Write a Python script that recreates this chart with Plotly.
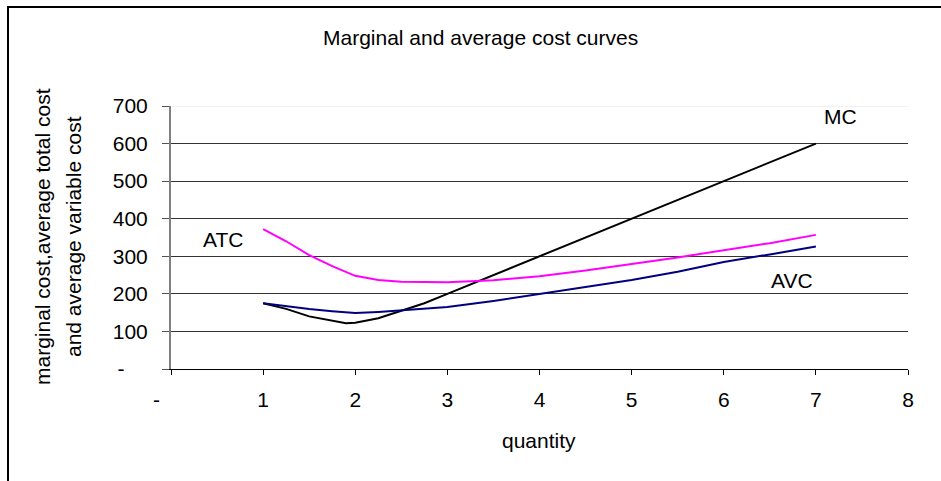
import plotly.graph_objects as go

# ---- data ----
mc_q = [1, 1.25, 1.5, 1.75, 1.9, 2, 2.25, 2.5, 2.75, 3, 3.5, 4, 4.5, 5, 5.5, 6, 6.5, 7]
mc = [175, 160, 140, 128, 122, 123, 135, 155, 175, 200, 250, 300, 350, 400, 450, 500, 550, 600]

avg_q = [1, 1.25, 1.5, 1.75, 2, 2.25, 2.5, 3, 3.5, 4, 4.5, 5, 5.5, 6, 6.5, 7]
atc = [372, 340, 303, 274, 248, 237, 232, 231, 236, 247, 262, 279, 297, 316, 335, 357]
avc = [175, 167, 160, 154, 149, 152, 156, 165, 181, 200, 217, 237, 259, 285, 305, 326]

x_ticks = [0, 1, 2, 3, 4, 5, 6, 7, 8]
x_labels = ["-" + "\u00a0" * 5, "1", "2", "3", "4", "5", "6", "7", "8"]
y_ticks = [0, 100, 200, 300, 400, 500, 600, 700]
y_labels = ["-" + "\u00a0" * 4, "100", "200", "300", "400", "500", "600", "700"]

FONT = "Liberation Sans, Arial, sans-serif"
FS = 21

fig = go.Figure()
fig.add_trace(go.Scatter(x=mc_q, y=mc, mode="lines", line=dict(color="#000000", width=2), name="MC"))
fig.add_trace(go.Scatter(x=avg_q, y=atc, mode="lines", line=dict(color="#FF00FF", width=2), name="ATC"))
fig.add_trace(go.Scatter(x=avg_q, y=avc, mode="lines", line=dict(color="#000080", width=2), name="AVC"))

L, R, T, B = 171, 33, 106, 112
W, H = 941, 481
pw, ph = W - L - R, H - T - B

def px(xp):
    return (xp - L) / pw

def py(yp):
    return (H - B - yp) / ph

fig.update_layout(
    width=W, height=H,
    margin=dict(l=L, r=R, t=T, b=B),
    paper_bgcolor="white", plot_bgcolor="white",
    showlegend=False,
    font=dict(family=FONT, size=FS, color="#000000"),
    xaxis=dict(
        range=[0, 8], tickmode="array", tickvals=x_ticks, ticktext=x_labels,
        showgrid=False, zeroline=False, showline=True, linecolor="#000000", linewidth=1,
        ticks="outside", ticklen=5, tickcolor="#000000", ticklabelstandoff=7,
        tickfont=dict(family=FONT, size=FS),
    ),
    yaxis=dict(
        range=[0, 700], tickmode="array", tickvals=y_ticks, ticktext=y_labels,
        showgrid=True, gridcolor="#333333", gridwidth=1, zeroline=False,
        showline=True, linecolor="#808080", linewidth=2,
        ticks="outside", ticklen=7, tickcolor="#555555", ticklabelstandoff=10,
        tickfont=dict(family=FONT, size=FS),
    ),
)

# faint top edge at 700
fig.add_shape(type="line", xref="x", yref="y", x0=0, x1=8, y0=700, y1=700,
              line=dict(color="#e6e6e6", width=1))

# outer border box (extends beyond right and bottom of the picture)
fig.add_shape(type="rect", xref="paper", yref="paper",
              x0=px(8), x1=px(960), y0=py(500), y1=py(7),
              line=dict(color="#000000", width=2), fillcolor="rgba(0,0,0,0)", layer="above")

ann = []
ann.append(dict(text="Marginal and average cost curves", xref="paper", yref="paper",
                x=px(480), y=py(37), showarrow=False, xanchor="center", yanchor="middle",
                font=dict(family=FONT, size=FS)))
ann.append(dict(text="quantity", xref="paper", yref="paper",
                x=px(539), y=py(440), showarrow=False, xanchor="center", yanchor="middle",
                font=dict(family=FONT, size=FS)))
ann.append(dict(text="marginal cost,average total cost", xref="paper", yref="paper",
                x=px(42), y=py(237), textangle=-90, showarrow=False,
                xanchor="center", yanchor="middle", font=dict(family=FONT, size=FS)))
ann.append(dict(text="and average variable cost", xref="paper", yref="paper",
                x=px(73), y=py(237), textangle=-90, showarrow=False,
                xanchor="center", yanchor="middle", font=dict(family=FONT, size=FS)))
ann.append(dict(text="ATC", xref="x", yref="y", x=0.56, y=345, showarrow=False,
                xanchor="center", yanchor="middle", font=dict(family=FONT, size=FS)))
ann.append(dict(text="MC", xref="x", yref="y", x=7.27, y=672, showarrow=False,
                xanchor="center", yanchor="middle", font=dict(family=FONT, size=FS)))
ann.append(dict(text="AVC", xref="x", yref="y", x=6.74, y=236, showarrow=False,
                xanchor="center", yanchor="middle", font=dict(family=FONT, size=FS)))
fig.update_layout(annotations=ann)

fig.write_html("out.html")
